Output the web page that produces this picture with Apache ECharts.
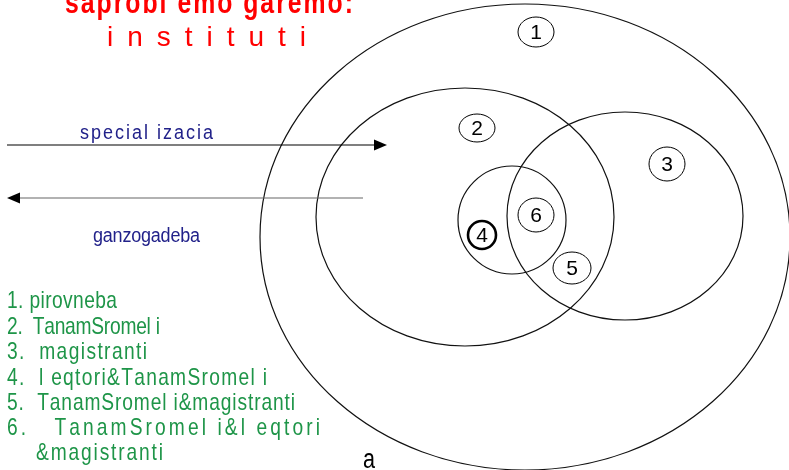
<!DOCTYPE html>
<html>
<head>
<meta charset="utf-8">
<script src="https://cdn.jsdelivr.net/npm/echarts@6/dist/echarts.min.js"></script>
<style>
  html, body { margin: 0; padding: 0; background: #fff; }
  #main { width: 789px; height: 470px; }
</style>
</head>
<body>
<div id="main"></div>
<script>
// big rings: cx, cy, rx, ry (pixel space of the picture)
const rings = [[525, 237, 265, 233], [465, 217, 149, 129], [625, 216, 118, 104], [512, 220, 54, 54]];
// numbered badges
const badgeLabels = ['1', '2', '3', '4', '5', '6'];
const badgePos = [[536, 32, 18, 15], [477, 128, 18, 14], [667, 164, 18, 17], [482, 235, 14, 14], [572, 268, 19, 16], [536, 215, 18, 17]];
// arrows: from x,y to x,y
const arrows = [[7, 145, 387, 145], [363, 198, 7, 198]];
const arrowColors = ['#000', '#666'];
// title
const titleLine = 'saprobl emo garemo:';
const titleWord = 'instituti';
// arrow captions
const captions = ['special izacia', 'ganzogadeba'];
// numbered list
const listItems = ['1. pirovneba', '2.  TanamSromel i', '3.  magistranti', '4.  l eqtori&TanamSromel i',
    '5.  TanamSromel i&magistranti', '6.   TanamSromel i&l eqtori', '&magistranti'];
const footNote = 'a';

const FONT = '"Liberation Sans", Arial, sans-serif';

// text blocks: text, left x, center y, color, size, bold, scaleX, full width
const texts = [
    [titleLine, 65, 4, '#ff0000', 31, true, 0.8, 288],
    [titleWord, 107, 38, '#ff0000', 28, false, 1, 199],
    [captions[0], 80, 133, '#22228a', 20, false, 0.9, 133],
    [captions[1], 93, 236, '#22228a', 20, false, 0.9, 107]
];
const listX = [7, 7, 7, 7, 7, 7, 36];
const listY = [301, 327, 352, 378, 403, 428, 453];
const listW = [110, 153, 140, 260, 288, 313, 127];
listItems.forEach((t, i) => {
    texts.push([t, listX[i], listY[i], '#1e9548', 24, false, 0.8, listW[i]]);
});
texts.push([footNote, 363, 461, '#000', 27, false, 0.8, 14]);

// 量一下每个字符宽度，用来把字母摊开
const measureCtx = document.createElement('canvas').getContext('2d');
function glyphWidths(str, font) {
    measureCtx.font = font;
    return str.split('').map(ch => measureCtx.measureText(ch).width);
}

const chart = echarts.init(document.getElementById('main'));

const option = {
    animation: false,
    grid: { left: 0, right: 0, top: 0, bottom: 0 },
    xAxis: { type: 'value', min: 0, max: 789, show: false },
    yAxis: { type: 'value', min: 0, max: 470, inverse: true, show: false },
    series: [
        {
            type: 'custom',
            clip: true,
            data: rings,
            renderItem: function(params, api) {
                const c = api.coord([api.value(0), api.value(1)]);
                const s = api.size([api.value(2), api.value(3)]);
                return {
                    type: 'ellipse',
                    shape: { cx: c[0], cy: c[1], rx: s[0], ry: s[1] },
                    style: { fill: 'none', stroke: '#111', lineWidth: 1.2 }
                };
            }
        },
        {
            type: 'custom',
            data: badgePos,
            renderItem: function(params, api) {
                const c = api.coord([api.value(0), api.value(1)]);
                const s = api.size([api.value(2), api.value(3)]);
                const bold = badgeLabels[params.dataIndex] === '4';
                return {
                    type: 'group',
                    children: [
                        {
                            type: 'ellipse',
                            shape: { cx: c[0], cy: c[1], rx: s[0], ry: s[1] },
                            style: { fill: '#fff', stroke: '#000', lineWidth: bold ? 2.6 : 1 }
                        },
                        {
                            type: 'text',
                            x: c[0], y: c[1] + 1,
                            style: {
                                text: badgeLabels[params.dataIndex], fill: '#000',
                                font: '21px ' + FONT,
                                align: 'center', verticalAlign: 'middle'
                            }
                        }
                    ]
                };
            }
        },
        {
            type: 'custom',
            data: arrows,
            renderItem: function(params, api) {
                const a = api.coord([api.value(0), api.value(1)]);
                const b = api.coord([api.value(2), api.value(3)]);
                const dir = b[0] > a[0] ? 1 : -1;
                const col = arrowColors[params.dataIndex];
                return {
                    type: 'group',
                    children: [
                        {
                            type: 'line',
                            shape: { x1: a[0], y1: a[1], x2: b[0] - dir * 10, y2: b[1] },
                            style: { stroke: col, lineWidth: 1.2 }
                        },
                        {
                            type: 'polygon',
                            shape: { points: [[b[0], b[1]], [b[0] - dir * 13, b[1] - 5.5], [b[0] - dir * 13, b[1] + 5.5]] },
                            style: { fill: '#000' }
                        }
                    ]
                };
            }
        },
        {
            type: 'custom',
            data: texts.map(t => [t[1], t[2]]),
            renderItem: function(params, api) {
                const t = texts[params.dataIndex];
                const c = api.coord([api.value(0), api.value(1)]);
                const font = (t[5] ? 'bold ' : '') + t[4] + 'px ' + FONT;
                const ws = glyphWidths(t[0], font).map(w => w * t[6]);
                const natural = ws.reduce((s, w) => s + w, 0);
                const gap = ws.length > 1 ? (t[7] - natural) / (ws.length - 1) : 0;
                let x = c[0];
                const children = [];
                t[0].split('').forEach((ch, i) => {
                    if (ch !== ' ') {
                        children.push({
                            type: 'text',
                            x: x, y: c[1], scaleX: t[6],
                            style: { text: ch, fill: t[3], font: font, align: 'left', verticalAlign: 'middle' }
                        });
                    }
                    x += ws[i] + gap;
                });
                return { type: 'group', children: children };
            }
        }
    ]
};

chart.setOption(option);
</script>
</body>
</html>
